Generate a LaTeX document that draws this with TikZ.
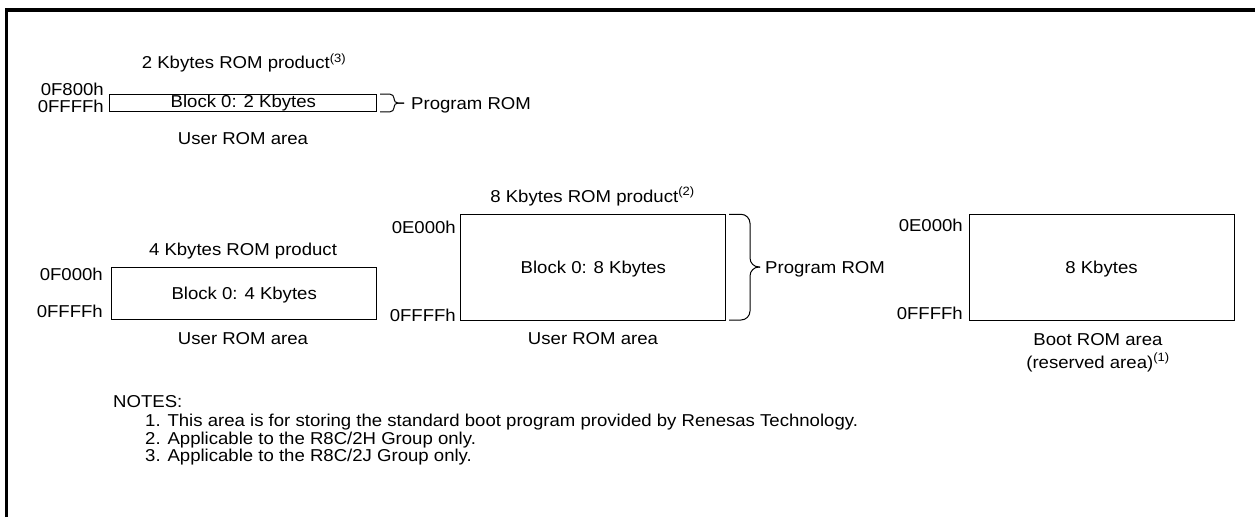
\documentclass[tikz,border=0pt]{standalone}
\usepackage{fontspec}
\setmainfont{Liberation Sans}[FakeStretch=1.08]
\usetikzlibrary{calc}
\begin{document}
\begin{tikzpicture}[x=1pt,y=-1pt,
  font=\fontsize{17.2}{20}\selectfont,
  membox/.style={draw, line width=1pt, inner sep=0pt},
  capmid/.style={text height=12.3pt, text depth=0pt},
  lbl/.style={inner sep=0pt},
  frameline/.style={line width=3.3pt},
  bracepath/.style={line width=1pt, rounded corners=#1},
  bracepath/.default=4pt]
\useasboundingbox (0,0) rectangle (1255,517);
% frame
\coordinate (fb) at (6.7,517);
\coordinate (fc) at (6.7,10);
\coordinate (fr) at (1255,10);
\draw[frameline] (fb) -- (fc) -- (fr);

% ---- 2 Kbytes product ----
\node[lbl, anchor=base] (t1) at (244,68.5) {2 Kbytes ROM product\textsuperscript{(3)}};
\node[membox, minimum width=266.7pt, minimum height=17.6pt] (b1) at (243.3,103) {Block 0: 2 Kbytes};
\node[lbl, anchor=base east] (a1s) at (104,95.5) {0F800h};
\node[lbl, anchor=base east] (a1e) at (104,112.5) {0FFFFh};
\node[lbl, anchor=base] (u1) at (243,144) {User ROM area};
\coordinate (br1t) at (380,94.2);
\coordinate (br1b) at (380,111.8);
\coordinate (br1tip) at (404,103);
\draw[bracepath=4pt] (br1t) -- (394,94.2) -- (394,103) -- (br1tip);
\draw[bracepath=4pt] (br1b) -- (394,111.8) -- (394,103) -- (br1tip);
\node[lbl, anchor=base west] (p1) at (411,109.2) {Program ROM};

% ---- 4 Kbytes product ----
\node[lbl, anchor=base] (t2) at (243,255) {4 Kbytes ROM product};
\node[membox, capmid, minimum width=265pt, minimum height=52.7pt] (b2) at (244.2,293.6) {Block 0: 4 Kbytes};
\node[lbl, anchor=base east] (a2s) at (103,280.2) {0F000h};
\node[lbl, anchor=base east] (a2e) at (103,317) {0FFFFh};
\node[lbl, anchor=base] (u2) at (243,344.5) {User ROM area};

% ---- 8 Kbytes product ----
\node[lbl, anchor=base] (t3) at (592.5,202) {8 Kbytes ROM product\textsuperscript{(2)}};
\node[membox, capmid, minimum width=264.7pt, minimum height=105.7pt] (b3) at (593.3,267.2) {Block 0: 8 Kbytes};
\node[lbl, anchor=base east] (a3s) at (456,233.2) {0E000h};
\node[lbl, anchor=base east] (a3e) at (456,321) {0FFFFh};
\node[lbl, anchor=base] (u3) at (593,344.5) {User ROM area};
\coordinate (br3t) at (729,214.3);
\coordinate (br3b) at (729,320);
\coordinate (br3tip) at (760,267);
\draw[bracepath=9pt] (br3t) -- (750,214.3) -- (750,267) -- (br3tip);
\draw[bracepath=9pt] (br3b) -- (750,320) -- (750,267) -- (br3tip);
\node[lbl, anchor=base west] (p3) at (765,273.2) {Program ROM};

% ---- Boot ROM area ----
\node[membox, capmid, minimum width=265pt, minimum height=105.7pt] (b4) at (1101.5,267.2) {8 Kbytes};
\node[lbl, anchor=base east] (a4s) at (963,231.7) {0E000h};
\node[lbl, anchor=base east] (a4e) at (963,319) {0FFFFh};
\node[lbl, anchor=base] (u4) at (1098,345) {Boot ROM area};
\node[lbl, anchor=base] (u4b) at (1098,368) {(reserved area)\textsuperscript{(1)}};

% ---- notes ----
\node[lbl, anchor=base west] (n0) at (113,407.5) {NOTES:};
\node[lbl, anchor=base west] (n1) at (145,426.5) {1. This area is for storing the standard boot program provided by Renesas Technology.};
\node[lbl, anchor=base west] (n2) at (145,444.2) {2. Applicable to the R8C/2H Group only.};
\node[lbl, anchor=base west] (n3) at (145,461.7) {3. Applicable to the R8C/2J Group only.};
\end{tikzpicture}
\end{document}
